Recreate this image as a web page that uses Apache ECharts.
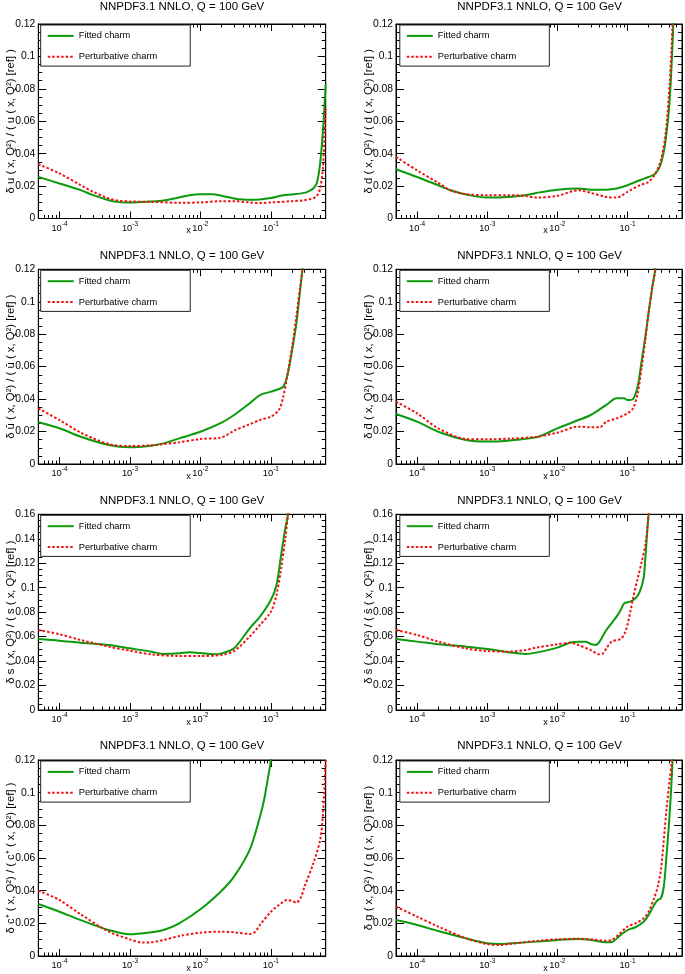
<!DOCTYPE html>
<html><head><meta charset="utf-8">
<script src="https://cdn.jsdelivr.net/npm/echarts@6/dist/echarts.min.js"></script>
<style>html,body{margin:0;padding:0;background:#fff}#c{width:685px;height:974px}</style>
</head><body><div id="c"></div>
<script>
// ---------- data ----------
const TITLE = 'NNPDF3.1 NNLO, Q = 100 GeV';
const SERIES_NAMES = ['Fitted charm', 'Perturbative charm'];
const X_MIN = 5e-5, X_MAX = 0.6;

// u
const u_fit_x = [5e-5,1e-4,2e-4,3e-4,5e-4,7e-4,1e-3,2e-3,3e-3,5e-3,7e-3,1e-2,1.5e-2,2e-2,3e-2,5e-2,7e-2,0.1,0.15,0.2,0.3,0.35,0.4,0.45,0.5,0.55,0.6];
const u_fit_y = [0.0257,0.0216,0.0175,0.0144,0.0113,0.0101,0.0099,0.0105,0.0111,0.0130,0.0144,0.0150,0.0150,0.0140,0.0124,0.0115,0.0117,0.0126,0.0144,0.0148,0.0158,0.0170,0.0185,0.0220,0.0340,0.0550,0.0830];
const u_pert_x = [5e-5,1e-4,2e-4,3e-4,5e-4,7e-4,1e-3,2e-3,5e-3,1e-2,2e-2,3e-2,5e-2,7e-2,0.1,0.2,0.3,0.4,0.45,0.5,0.55,0.6];
const u_pert_y = [0.0335,0.0278,0.0206,0.0165,0.0124,0.0110,0.0105,0.0103,0.0097,0.0099,0.0107,0.0107,0.0099,0.0095,0.0099,0.0107,0.0113,0.0125,0.0140,0.0185,0.0320,0.0690];

// d
const d_fit_x = [5e-5,1e-4,2e-4,3e-4,5e-4,1e-3,2e-3,3.5e-3,5e-3,1e-2,2e-2,3e-2,5e-2,7e-2,0.1,0.15,0.2,0.25,0.3,0.35,0.4,0.45,0.5];
const d_fit_y = [0.0304,0.0256,0.0205,0.0174,0.0148,0.0129,0.0133,0.0144,0.0158,0.0178,0.0185,0.0178,0.0178,0.0185,0.0205,0.0236,0.0256,0.0277,0.0338,0.0480,0.0730,0.1200,0.2000];
const d_pert_x = [5e-5,1e-4,2e-4,3e-4,5e-4,1e-3,2e-3,3.5e-3,5e-3,1e-2,2e-2,3e-2,5e-2,7e-2,0.1,0.15,0.2,0.25,0.3,0.35,0.4,0.44,0.5];
const d_pert_y = [0.0380,0.0297,0.0220,0.0174,0.0150,0.0144,0.0144,0.0140,0.0129,0.0140,0.0174,0.0158,0.0133,0.0129,0.0164,0.0205,0.0226,0.0277,0.0360,0.0520,0.0830,0.1200,0.2000];

// u-bar
const ub_fit_x = [5e-5,1e-4,2e-4,5e-4,1e-3,2e-3,3e-3,5e-3,1e-2,2e-2,3e-2,5e-2,7e-2,0.1,0.13,0.15,0.17,0.2,0.23,0.26,0.28,0.32];
const ub_fit_y = [0.0257,0.0220,0.0168,0.0117,0.0103,0.0113,0.0127,0.0158,0.0199,0.0255,0.0302,0.0374,0.0425,0.0446,0.0462,0.0477,0.0538,0.0700,0.0867,0.1070,0.1200,0.1600];
const ub_pert_x = [5e-5,1e-4,2e-4,5e-4,1e-3,2e-3,3e-3,5e-3,1e-2,2e-2,3e-2,5e-2,7e-2,0.1,0.13,0.15,0.17,0.2,0.23,0.26,0.28,0.32];
const ub_pert_y = [0.0343,0.0271,0.0193,0.0123,0.0111,0.0115,0.0123,0.0134,0.0154,0.0164,0.0205,0.0245,0.0271,0.0292,0.0333,0.0415,0.0538,0.0723,0.0908,0.1090,0.1200,0.1600];

// d-bar
const db_fit_x = [5e-5,1e-4,2e-4,5e-4,1e-3,2e-3,5e-3,7e-3,1e-2,2e-2,3e-2,5e-2,7e-2,9e-2,0.1,0.12,0.14,0.16,0.18,0.2,0.23,0.25,0.3];
const db_fit_y = [0.0308,0.0261,0.0199,0.0148,0.0138,0.0144,0.0164,0.0189,0.0220,0.0271,0.0302,0.0364,0.0405,0.0405,0.0394,0.0400,0.0480,0.0640,0.0785,0.0930,0.1110,0.1200,0.1600];
const db_pert_x = [5e-5,1e-4,2e-4,5e-4,1e-3,2e-3,5e-3,1e-2,2e-2,3e-2,4e-2,5e-2,7e-2,0.1,0.12,0.14,0.16,0.18,0.2,0.23,0.25,0.3];
const db_pert_y = [0.0384,0.0312,0.0220,0.0154,0.0152,0.0156,0.0168,0.0193,0.0230,0.0226,0.0226,0.0261,0.0281,0.0312,0.0343,0.0436,0.0600,0.0764,0.0930,0.1110,0.1200,0.1600];

// s
const s_fit_x = [5e-5,1e-4,2e-4,5e-4,1e-3,2e-3,3e-3,5e-3,7e-3,1e-2,1.5e-2,2e-2,3e-2,5e-2,7e-2,0.1,0.12,0.14,0.16,0.175,0.2];
const s_fit_y = [0.0580,0.0567,0.0550,0.0531,0.0504,0.0477,0.0458,0.0463,0.0472,0.0466,0.0455,0.0463,0.0504,0.0668,0.0763,0.0900,0.1020,0.1270,0.1485,0.1600,0.2000];
const s_pert_x = [5e-5,1e-4,2e-4,5e-4,1e-3,2e-3,5e-3,1e-2,2e-2,3e-2,5e-2,7e-2,0.1,0.12,0.14,0.16,0.175,0.2];
const s_pert_y = [0.0654,0.0619,0.0572,0.0518,0.0485,0.0455,0.0442,0.0442,0.0450,0.0482,0.0600,0.0695,0.0804,0.0940,0.1160,0.1400,0.1600,0.2000];

// s-bar
const sb_fit_x = [5e-5,1e-4,2e-4,5e-4,1e-3,2e-3,3.5e-3,5e-3,1e-2,1.5e-2,2e-2,2.5e-2,3e-2,3.5e-2,4e-2,5e-2,7e-2,8e-2,9e-2,0.11,0.13,0.15,0.17,0.18,0.19,0.2,0.22];
const sb_fit_y = [0.0580,0.0559,0.0537,0.0518,0.0499,0.0472,0.0458,0.0469,0.0510,0.0550,0.0559,0.0559,0.0540,0.0531,0.0559,0.0654,0.0763,0.0818,0.0872,0.0886,0.0913,0.0968,0.1077,0.1240,0.1430,0.1600,0.2000];
const sb_pert_x = [5e-5,1e-4,2e-4,5e-4,1e-3,2e-3,3.5e-3,5e-3,1e-2,1.5e-2,2e-2,3e-2,4e-2,4.5e-2,5e-2,6e-2,8e-2,9e-2,0.1,0.11,0.12,0.14,0.16,0.18,0.2,0.22];
const sb_pert_y = [0.0654,0.0613,0.0559,0.0504,0.0482,0.0477,0.0490,0.0510,0.0537,0.0550,0.0531,0.0490,0.0455,0.0463,0.0504,0.0559,0.0580,0.0619,0.0695,0.0804,0.0913,0.1077,0.1213,0.1350,0.1600,0.2000];

// c+
const c_fit_x = [5e-5,1e-4,2e-4,5e-4,1e-3,2e-3,3e-3,5e-3,1e-2,2e-2,3e-2,5e-2,7e-2,8e-2,9e-2,0.1,0.12];
const c_fit_y = [0.0318,0.0271,0.0220,0.0159,0.0133,0.0145,0.0159,0.0200,0.0286,0.0400,0.0486,0.0650,0.0853,0.0955,0.1080,0.1200,0.1600];
const c_pert_x = [5e-5,1e-4,2e-4,5e-4,1e-3,1.5e-3,2e-3,3e-3,5e-3,1e-2,2e-2,3e-2,5e-2,6e-2,7e-2,0.1,0.13,0.17,0.2,0.23,0.27,0.3,0.4,0.5,0.55,0.6];
const c_pert_y = [0.0400,0.0343,0.0255,0.0149,0.0102,0.0082,0.0084,0.0098,0.0122,0.0143,0.0149,0.0145,0.0135,0.0149,0.0190,0.0271,0.0312,0.0343,0.0337,0.0327,0.0363,0.0424,0.0567,0.0710,0.0873,0.1200];

// g
const g_fit_x = [5e-5,1e-4,2e-4,5e-4,1e-3,1.5e-3,2e-3,5e-3,1e-2,2e-2,3e-2,5e-2,6e-2,8e-2,0.1,0.13,0.17,0.2,0.24,0.27,0.3,0.33,0.36,0.4,0.44,0.5];
const g_fit_y = [0.0220,0.0190,0.0153,0.0108,0.0078,0.0073,0.0076,0.0088,0.0098,0.0104,0.0098,0.0084,0.0086,0.0129,0.0159,0.0176,0.0210,0.0251,0.0312,0.0343,0.0353,0.0424,0.0608,0.0873,0.1200,0.2000];
const g_pert_x = [5e-5,1e-4,2e-4,5e-4,1e-3,1.5e-3,2e-3,5e-3,1e-2,2e-2,3e-2,5e-2,6e-2,8e-2,0.1,0.13,0.17,0.2,0.24,0.27,0.3,0.33,0.36,0.4,0.43,0.5];
const g_pert_y = [0.0302,0.0241,0.0180,0.0108,0.0073,0.0067,0.0073,0.0092,0.0102,0.0106,0.0102,0.0094,0.0098,0.0143,0.0180,0.0200,0.0231,0.0271,0.0353,0.0424,0.0527,0.0710,0.0894,0.1080,0.1200,0.2000];

const Y_NAMES = [
  'δ u ( x, Q²) / ( u ( x, Q²) [ref] )',
  'δ d ( x, Q²) / ( d ( x, Q²) [ref] )',
  'δ ū ( x, Q²) / ( ū ( x, Q²) [ref] )',
  'δ d̄ ( x, Q²) / ( d̄ ( x, Q²) [ref] )',
  'δ s ( x, Q²) / ( s ( x, Q²) [ref] )',
  'δ s̄ ( x, Q²) / ( s̄ ( x, Q²) [ref] )',
  'δ c⁺ ( x, Q²) / ( c⁺ ( x, Q²) [ref] )',
  'δ g ( x, Q²) / ( g ( x, Q²) [ref] )'
];
const Y_MAX = [0.12, 0.12, 0.12, 0.12, 0.16, 0.16, 0.12, 0.12];
const Y_STEP = 0.02;

const PANELS = [
  [u_fit_x, u_fit_y, u_pert_x, u_pert_y],
  [d_fit_x, d_fit_y, d_pert_x, d_pert_y],
  [ub_fit_x, ub_fit_y, ub_pert_x, ub_pert_y],
  [db_fit_x, db_fit_y, db_pert_x, db_pert_y],
  [s_fit_x, s_fit_y, s_pert_x, s_pert_y],
  [sb_fit_x, sb_fit_y, sb_pert_x, sb_pert_y],
  [c_fit_x, c_fit_y, c_pert_x, c_pert_y],
  [g_fit_x, g_fit_y, g_pert_x, g_pert_y]
];

// ---------- layout ----------
const FONT = 'Liberation Sans, Arial, Helvetica, sans-serif';
const COL_LEFT = [38.3, 396];
const COL_W = [287.4, 287.2];
const ROW_TOP = [24, 269.3, 514.3, 760];
const ROW_H = [194.5, 194.7, 195.7, 196];
const GREEN = '#0b9a0b';
const RED = '#f01414';

const zip = (xs, ys) => xs.map((x, i) => [x, ys[i]]);
const expLabel = v => {
  const e = Math.log10(v);
  const r = Math.round(e);
  if (Math.abs(e - r) > 1e-6) return '';
  return '{b|10}{s|' + r + '}';
};

const option = {
  animation: false,
  backgroundColor: '#fff',
  title: [], legend: [], grid: [], xAxis: [], yAxis: [], series: []
};

PANELS.forEach((p, i) => {
  const col = i % 2, row = Math.floor(i / 2);
  const left = COL_LEFT[col], top = ROW_TOP[row], w = COL_W[col], h = ROW_H[row];
  option.grid.push({left: left, top: top, width: w, height: h, show: true,
    borderColor: '#000', borderWidth: 1, backgroundColor: 'transparent'});
  option.title.push({text: TITLE, left: left + w / 2, top: row === 0 ? 0 : top - 20.2,
    textAlign: 'center', padding: 0,
    textStyle: {fontFamily: FONT, fontSize: 11.5, fontWeight: 'normal', color: '#000', lineHeight: 13}});
  option.legend.push({left: left + (col === 0 ? 2.4 : 3.8), top: top + 1, orient: 'vertical',
    padding: [5.3, 33, 3.7, 6], itemGap: 9.7, itemWidth: 26, itemHeight: 14,
    borderColor: '#222', borderWidth: 1, backgroundColor: '#fff', selectedMode: false,
    itemStyle: {opacity: 0, borderWidth: 0},
    textStyle: {fontFamily: FONT, fontSize: 9.3, color: '#000'},
    data: SERIES_NAMES});
  const xCommon = {type: 'log', logBase: 10, gridIndex: i, min: X_MIN, max: X_MAX,
    splitLine: {show: false}, minorSplitLine: {show: false},
    axisLine: {show: true, onZero: false, lineStyle: {color: '#000', width: 1}},
    axisTick: {show: true, inside: true, length: 7, lineStyle: {color: '#000', width: 1}},
    minorTick: {show: true, splitNumber: 9, length: 3.5, lineStyle: {color: '#000', width: 1}}};
  option.xAxis.push(Object.assign({}, xCommon, {position: 'bottom',
    axisLabel: {show: true, margin: 2, formatter: expLabel, hideOverlap: false,
      rich: {b: {fontFamily: FONT, fontSize: 9.3, color: '#000', verticalAlign: 'bottom', lineHeight: 12},
             s: {fontFamily: FONT, fontSize: 6.5, color: '#000', verticalAlign: 'top', lineHeight: 12}}},
    name: 'x', nameLocation: 'middle', nameGap: 8, nameMoveOverlap: false,
    nameTextStyle: {fontFamily: FONT, fontSize: 9, color: '#000', padding: [0, 0, 0, 13]}}));
  option.xAxis.push(Object.assign({}, xCommon, {position: 'top', axisLabel: {show: false}}));
  const yCommon = {type: 'value', gridIndex: i, min: 0, max: Y_MAX[i], interval: Y_STEP,
    splitLine: {show: false}, minorSplitLine: {show: false},
    axisLine: {show: true, onZero: false, lineStyle: {color: '#000', width: 1}},
    axisTick: {show: true, inside: true, length: 8, lineStyle: {color: '#000', width: 1}},
    minorTick: {show: true, splitNumber: 4, length: 4, lineStyle: {color: '#000', width: 1}}};
  option.yAxis.push(Object.assign({}, yCommon, {position: 'left',
    axisLabel: {show: true, margin: 3, fontFamily: FONT, fontSize: 10.3, color: '#000'},
    name: Y_NAMES[i], nameLocation: 'middle', nameGap: 22, nameMoveOverlap: false,
    nameTextStyle: {fontFamily: FONT, fontSize: 11.3, color: '#000'}}));
  option.yAxis.push(Object.assign({}, yCommon, {position: 'right', axisLabel: {show: false}}));
  const mk = (name, xs, ys, color, type) => ({
    name: name, type: 'line', xAxisIndex: 2 * i, yAxisIndex: 2 * i,
    data: zip(xs, ys), symbol: 'none', showSymbol: false, smooth: 0.3,
    clip: true, lineStyle: {color: color, width: 2, type: type}, itemStyle: {color: color},
    emphasis: {disabled: true}
  });
  option.series.push(mk(SERIES_NAMES[0], p[0], p[1], GREEN, 'solid'));
  option.series.push(mk(SERIES_NAMES[1], p[2], p[3], RED, [2.5, 2]));
});

const chart = echarts.init(document.getElementById('c'), null, {renderer: 'canvas'});
chart.setOption(option);
</script>
</body></html>
